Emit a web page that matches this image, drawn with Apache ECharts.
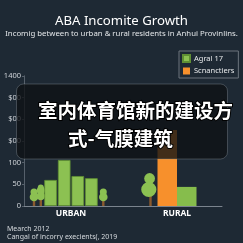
<!DOCTYPE html>
<html><head><meta charset="utf-8">
<script src="https://cdn.jsdelivr.net/npm/echarts@6/dist/echarts.min.js"></script>
<style>html,body{margin:0;padding:0;background:#1e2934;}#c{width:243px;height:243px;}</style>
</head><body><div id="c"></div>
<script>
var categories = ['URBAN', 'RURAL'];
var yTickLabels = ['0', '50', '100', '$00', '$00', '$00', '1400'];
var urbanBar1 = [60, null];
var urbanBar2 = [106, null];
var urbanBar3 = [69, null];
var urbanBar4 = [64, null];
var ruralOrange = [null, 175];
var ruralGreen = [null, 44];
var legendNames = ['Agral 17', 'Scnanctiers'];
var titleText = 'ABA Incomite Growth';
var subtitleText = 'Incomig between to urban & rural residents in Anhui Provinlins.';
var footer1 = 'Mearch 2012';
var footer2 = 'Cangal of incorry execients(, 2019';
var overlayLine1 = '室内体育馆新的建设方';
var overlayLine2 = '式-气膜建筑';

var GREEN = '#8cc152', GREEN_DARK = '#5f8f33', ORANGE = '#f7902c';
var chart = echarts.init(document.getElementById('c'), null, {renderer: 'canvas'});

function tree(x, circles, trunkTop) {
  var ch = [{type: 'rect', shape: {x: x - 1.2, y: trunkTop, width: 2.4, height: 206 - trunkTop}, style: {fill: '#8a5a2e'}}];
  circles.forEach(function (c) {
    ch.push({type: 'circle', shape: {cx: c[0], cy: c[1], r: c[2]}, style: {fill: GREEN}});
  });
  return {type: 'group', z: 5, children: ch};
}

function urbanSeries(data) {
  return {type: 'bar', name: legendNames[0], xAxisIndex: 0, yAxisIndex: 0, data: data,
    barWidth: 12.6, barGap: '8%', itemStyle: {color: GREEN, borderColor: GREEN_DARK, borderWidth: 0.8}, z: 3};
}

var option = {
  backgroundColor: '#1e2934',
  animation: false,
  title: [
    {text: titleText, left: 'center', top: 14.5, padding: 0, textStyle: {color: '#ffffff', fontSize: 13.2, fontWeight: 'normal', fontFamily: 'Noto Sans'}},
    {text: subtitleText, left: 'center', top: 30.2, padding: 0, textStyle: {color: '#e4e7ea', fontSize: 7.8, fontWeight: 'normal', fontFamily: 'Noto Sans'}},
    {text: footer1, left: 7, top: 225.5, padding: 0, textStyle: {color: '#d5d9dd', fontSize: 7, fontWeight: 'normal', fontFamily: 'Noto Sans'}},
    {text: footer2, left: 7, top: 233.2, padding: 0, textStyle: {color: '#d5d9dd', fontSize: 7, fontWeight: 'normal', fontFamily: 'Noto Sans'}}
  ],
  legend: {
    data: [{name: legendNames[0], itemStyle: {color: GREEN}}, {name: legendNames[1], itemStyle: {color: ORANGE}}],
    orient: 'vertical', left: 179, top: 51, padding: [3, 4, 3, 3], itemGap: 4,
    itemWidth: 7, itemHeight: 7, icon: 'rect',
    borderColor: '#6c747c', borderWidth: 1,
    textStyle: {color: '#e8eaec', fontSize: 7.5, fontFamily: 'Noto Sans', padding: [0, 0, 0, -1]}
  },
  grid: [
    {left: 18, right: 13, top: 75.8, bottom: 37},
    {left: 24, right: 21, top: 75.8, bottom: 37}
  ],
  xAxis: [
    {type: 'category', gridIndex: 0, data: categories, axisLine: {show: false}, axisTick: {show: false},
      axisLabel: {color: '#ffffff', fontSize: 8.5, fontWeight: 'bold', fontFamily: 'Noto Sans', margin: 3}},
    {type: 'category', gridIndex: 1, data: categories, axisLine: {show: true, lineStyle: {color: '#7b848e', width: 1}},
      axisTick: {show: false}, axisLabel: {show: false}},
    {type: 'category', gridIndex: 0, data: categories, show: false}
  ],
  yAxis: [
    {type: 'value', gridIndex: 0, min: 0, max: 300, interval: 50, show: false},
    {type: 'value', gridIndex: 1, min: 0, max: 300, interval: 50,
      axisLine: {show: true, lineStyle: {color: '#56606b'}},
      axisTick: {show: true, length: 2, lineStyle: {color: '#56606b'}},
      splitLine: {show: false},
      axisLabel: {color: '#cfd3d8', fontSize: 7.5, fontFamily: 'Noto Sans', margin: 3,
        formatter: function (v) { return yTickLabels[Math.round(v / 50)]; }}}
  ],
  series: [
    urbanSeries(urbanBar1), urbanSeries(urbanBar2), urbanSeries(urbanBar3), urbanSeries(urbanBar4),
    {type: 'bar', name: legendNames[1], xAxisIndex: 2, yAxisIndex: 0, data: ruralOrange, barWidth: 19.5, barGap: '0%',
      itemStyle: {color: ORANGE}, z: 3},
    {type: 'bar', name: legendNames[0], xAxisIndex: 2, yAxisIndex: 0, data: ruralGreen, barWidth: 19.5, barGap: '0%',
      itemStyle: {color: '#86bd4c'}, z: 3}
  ],
  graphic: [
    tree(34, [[34, 197, 4.3], [34, 192, 3.5]], 196),
    tree(40.8, [[40.8, 196, 4.3], [40.8, 190.5, 4], [40.8, 187.5, 3]], 195),
    tree(103.3, [[103.3, 197, 4.3], [103.3, 192, 3.5]], 197),
    tree(150.5, [[148.8, 189.5, 7.6], [149.6, 178.5, 5.4]], 188),
    {type: 'rect', z: 100, shape: {x: 16.5, y: 84, width: 211, height: 75, r: 7},
      style: {fill: 'rgba(14,17,21,0.78)', stroke: 'rgba(150,160,170,0.35)', lineWidth: 1}},
    {type: 'text', z: 101, left: 37, top: 100, style: {text: overlayLine1, fill: '#ffffff',
      font: 'bold 19.5px "Noto Sans CJK SC"', stroke: '#000000', lineWidth: 2}},
    {type: 'text', z: 101, left: 67, top: 128, style: {text: overlayLine2, fill: '#ffffff',
      font: 'bold 19.5px "Noto Sans CJK SC"', stroke: '#000000', lineWidth: 2}}
  ]
};
chart.setOption(option);
</script></body></html>
